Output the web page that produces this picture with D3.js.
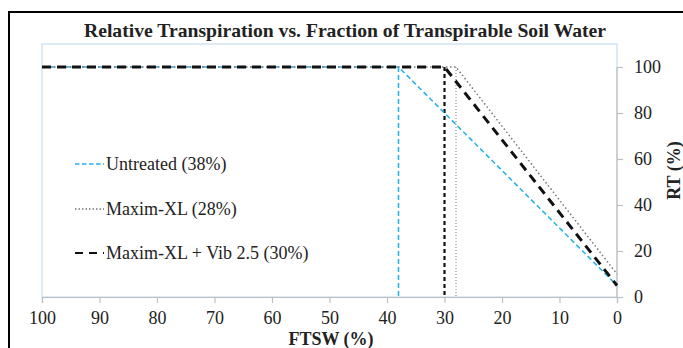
<!DOCTYPE html>
<html>
<head>
<meta charset="utf-8">
<style>
  * { margin:0; padding:0 }
  body { background:#fff; overflow:hidden; }
  text { font-family: "Liberation Serif", "Times New Roman", serif; fill:#222; }
</style>
<script src="https://cdn.jsdelivr.net/npm/d3@7"></script>
</head>
<body>
<script>
var width = 683, height = 348;

// data
var xTicks = [100, 90, 80, 70, 60, 50, 40, 30, 20, 10, 0];
var yTicks = [0, 20, 40, 60, 80, 100];
var untreated = [[100, 100], [38, 100], [0, 5]];
var maxim = [[100, 100], [28, 100], [0, 10]];
var vib = [[100, 100], [30, 100], [0, 5]];
var thresholds = [38, 28, 30];
var labels = ["Untreated (38%)", "Maxim-XL (28%)", "Maxim-XL + Vib 2.5 (30%)"];

var m = {left: 42, right: 617, top: 44, bottom: 297};

var x = d3.scaleLinear().domain([100, 0]).range([m.left, m.right]);
var y = d3.scaleLinear().domain([0, 110]).range([m.bottom, m.top]);

var svg = d3.select("body").append("svg")
    .attr("width", width)
    .attr("height", height);

// outer frame
svg.append("rect")
    .attr("x", 9).attr("y", 12)
    .attr("width", 690).attr("height", 360)
    .attr("fill", "none").attr("stroke", "#000").attr("stroke-width", 2);

svg.append("text")
    .attr("x", 345).attr("y", 37)
    .attr("text-anchor", "middle")
    .style("font-size", "19.5px").style("font-weight", "bold")
    .attr("textLength", 522).attr("lengthAdjust", "spacingAndGlyphs")
    .text("Relative Transpiration vs. Fraction of Transpirable Soil Water");

// plot area border
svg.append("rect")
    .attr("x", m.left).attr("y", m.top)
    .attr("width", m.right - m.left).attr("height", m.bottom - m.top)
    .attr("fill", "none").attr("stroke", "#c5def0").attr("stroke-width", 1.2);

var xAxis = svg.append("g")
    .attr("transform", "translate(0," + m.bottom + ")")
    .call(d3.axisBottom(x).tickValues(xTicks).tickSize(6).tickPadding(8));

var yAxis = svg.append("g")
    .attr("transform", "translate(" + m.right + ",0)")
    .call(d3.axisRight(y).tickValues(yTicks).tickSize(6).tickPadding(11));

[xAxis, yAxis].forEach(function(a) {
  a.attr("font-family", "Liberation Serif").attr("font-size", 18);
  a.select(".domain").attr("stroke", "#bfbfbf").attr("stroke-width", 1.2);
  a.selectAll(".tick line").attr("stroke", "#bfbfbf").attr("stroke-width", 1.2);
  a.selectAll(".tick text").attr("fill", "#222");
});
yAxis.select(".domain").attr("d", "M0," + y(0) + "V" + y(100));

svg.append("text")
    .attr("x", 331).attr("y", 345)
    .attr("text-anchor", "middle")
    .style("font-size", "18px").style("font-weight", "bold")
    .text("FTSW (%)");

svg.append("text")
    .attr("transform", "translate(680," + y(55) + ") rotate(-90)")
    .attr("text-anchor", "middle")
    .style("font-size", "18px").style("font-weight", "bold")
    .text("RT (%)");

var line = d3.line()
    .x(function(d) { return x(d[0]); })
    .y(function(d) { return y(d[1]); });

var styles = [
  {stroke: "#29b3e8", width: 1.6, dash: "5,3", vdash: "5,3", vwidth: 1.6},
  {stroke: "#777", width: 1.5, dash: "1.5,2.5", vdash: "1,2", vwidth: 1},
  {stroke: "#111", width: 3, dash: "9,6", vdash: "4,3", vwidth: 2.2}
];
var series = [untreated, maxim, vib];

// vertical threshold lines
thresholds.forEach(function(t, i) {
  svg.append("line")
      .attr("x1", x(t)).attr("x2", x(t))
      .attr("y1", y(100)).attr("y2", y(0))
      .attr("stroke", styles[i].stroke)
      .attr("stroke-width", styles[i].vwidth)
      .attr("stroke-dasharray", styles[i].vdash);
});

series.forEach(function(s, i) {
  svg.append("path")
      .datum(s)
      .attr("d", line)
      .attr("fill", "none")
      .attr("stroke", styles[i].stroke)
      .attr("stroke-width", styles[i].width)
      .attr("stroke-dasharray", styles[i].dash);
});

// legend
var legendY = [164, 209, 253];
labels.forEach(function(l, i) {
  var g = svg.append("g").attr("transform", "translate(0," + legendY[i] + ")");
  g.append("line")
      .attr("x1", 75).attr("x2", 104)
      .attr("stroke", styles[i].stroke)
      .attr("stroke-width", i == 2 ? 2.2 : 1.5)
      .attr("stroke-dasharray", i == 2 ? "8,6" : (i == 1 ? "1.5,2" : "4.5,2.5"));
  g.append("text")
      .attr("x", 106).attr("y", 6)
      .style("font-size", "18px")
      .text(l);
});
</script>
</body>
</html>
